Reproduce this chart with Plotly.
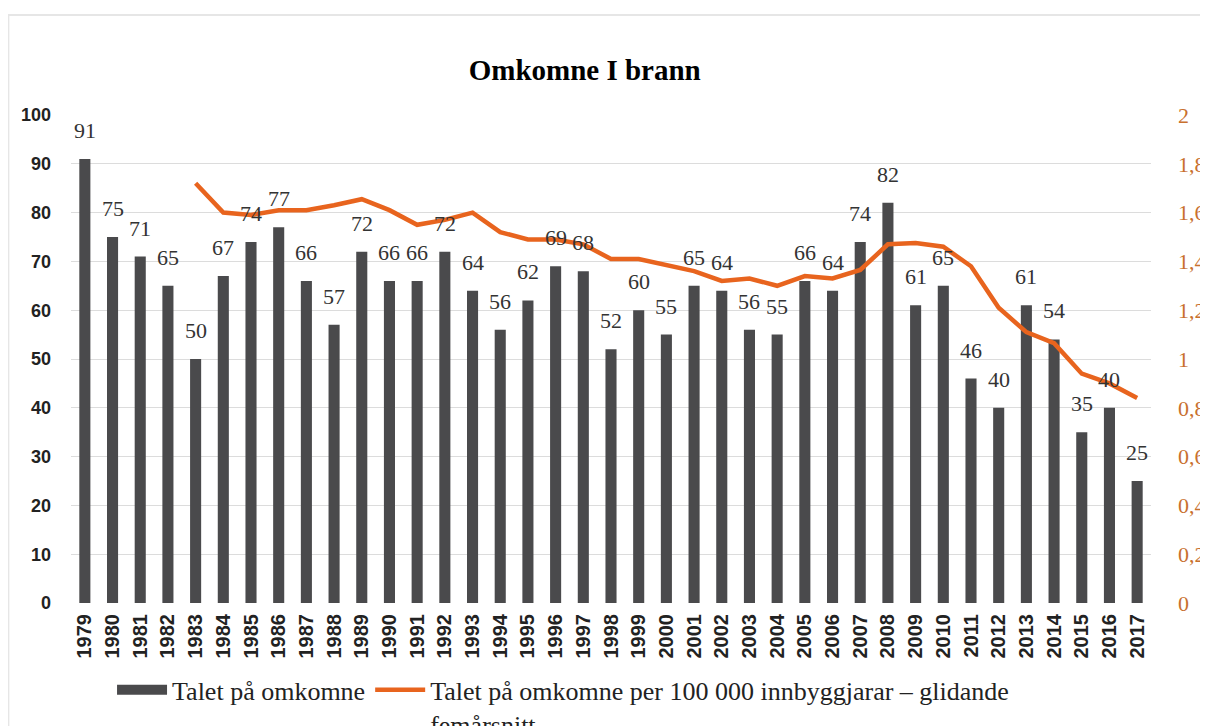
import plotly.graph_objects as go

years = [str(y) for y in range(1979, 2018)]
deaths = [91, 75, 71, 65, 50, 67, 74, 77, 66, 57, 72, 66, 66, 72, 64, 56, 62, 69, 68, 52,
          60, 55, 65, 64, 56, 55, 66, 64, 74, 82, 61, 65, 46, 40, 61, 54, 35, 40, 25]
rate_years = [str(y) for y in range(1983, 2018)]
rate = [1.72, 1.60, 1.59, 1.61, 1.61, 1.63, 1.655, 1.61, 1.55, 1.57, 1.60, 1.52, 1.49, 1.49,
        1.47, 1.41, 1.41, 1.385, 1.36, 1.32, 1.33, 1.30, 1.34, 1.33, 1.365, 1.47, 1.475, 1.46,
        1.38, 1.21, 1.11, 1.065, 0.94, 0.90, 0.84]
left_ticks = [0, 10, 20, 30, 40, 50, 60, 70, 80, 90, 100]
right_ticks = [0, 0.2, 0.4, 0.6, 0.8, 1.0, 1.2, 1.4, 1.6, 1.8, 2.0]
right_text = ["0", "0,2", "0,4", "0,6", "0,8", "1", "1,2", "1,4", "1,6", "1,8", "2"]

serif = "Liberation Serif, Times New Roman, serif"
sans = "Liberation Sans, Arial, sans-serif"
orange = "#e8641e"
gray = "#4a4a4c"

fig = go.Figure()
fig.add_trace(go.Bar(
    x=years, y=deaths, name="Talet på omkomne", showlegend=False,
    marker=dict(color=gray, line=dict(width=0)),
    width=0.4,
))
# legend entry for the bars (wide rectangle symbol as in the original)
fig.add_trace(go.Scatter(
    x=[years[0]], y=[None], mode="lines", name="Talet på omkomne",
    line=dict(color=gray, width=14), hoverinfo="skip",
))
fig.add_trace(go.Scatter(
    x=rate_years, y=rate, yaxis="y2", mode="lines",
    name="Talet på omkomne per 100 000 innbyggjarar – glidande<br>femårsnitt",
    line=dict(color=orange, width=4.5),
))

# value labels above the bars (x given as category index)
for i, v in enumerate(deaths):
    fig.add_annotation(x=i, y=v, xref="x", yref="y", text=str(v), showarrow=False,
                       yanchor="bottom", yshift=14,
                       font=dict(family=serif, size=22, color="#333333"))

fig.update_layout(
    width=1200, height=718,
    paper_bgcolor="white", plot_bgcolor="white",
    margin=dict(l=63, r=57, t=107, b=123, autoexpand=False),
    title=dict(text="<b>Omkomne I brann</b>", x=0.4806, xanchor="center", y=0.914, yanchor="middle",
               font=dict(family=serif, size=29, color="black")),
    showlegend=True,
    legend=dict(orientation="h", x=0.038, xanchor="left", y=-0.13, yanchor="top",
                font=dict(family=serif, size=26, color="#222222"),
                itemwidth=50, tracegroupgap=0, valign="top"),
    xaxis=dict(type="category", range=[-0.5, len(years) - 0.5], tickangle=-90,
               showgrid=False, showline=False,
               tickfont=dict(family=sans, size=20, color="#222222", weight="bold"), ticks="",
               ticklabelstandoff=6),
    yaxis=dict(range=[0, 100], tickvals=left_ticks, showgrid=True, gridcolor="#dcdcdc",
               gridwidth=1, zeroline=False, showline=False,
               tickfont=dict(family=sans, size=18, color="#222222", weight="bold"),
               ticklabelstandoff=19),
    yaxis2=dict(range=[0, 2], overlaying="y", side="right", tickvals=right_ticks,
                ticktext=right_text, showgrid=False, zeroline=False, showline=False,
                tickfont=dict(family=serif, size=22, color="#c8702e"),
                ticklabelstandoff=26),
)

fig.add_shape(type="rect", xref="paper", yref="paper", x0=-0.058, x1=1.06, y0=-0.3, y1=1.205,
              line=dict(color="#e6e6e6", width=2), layer="below")

fig.write_html("out.html")
